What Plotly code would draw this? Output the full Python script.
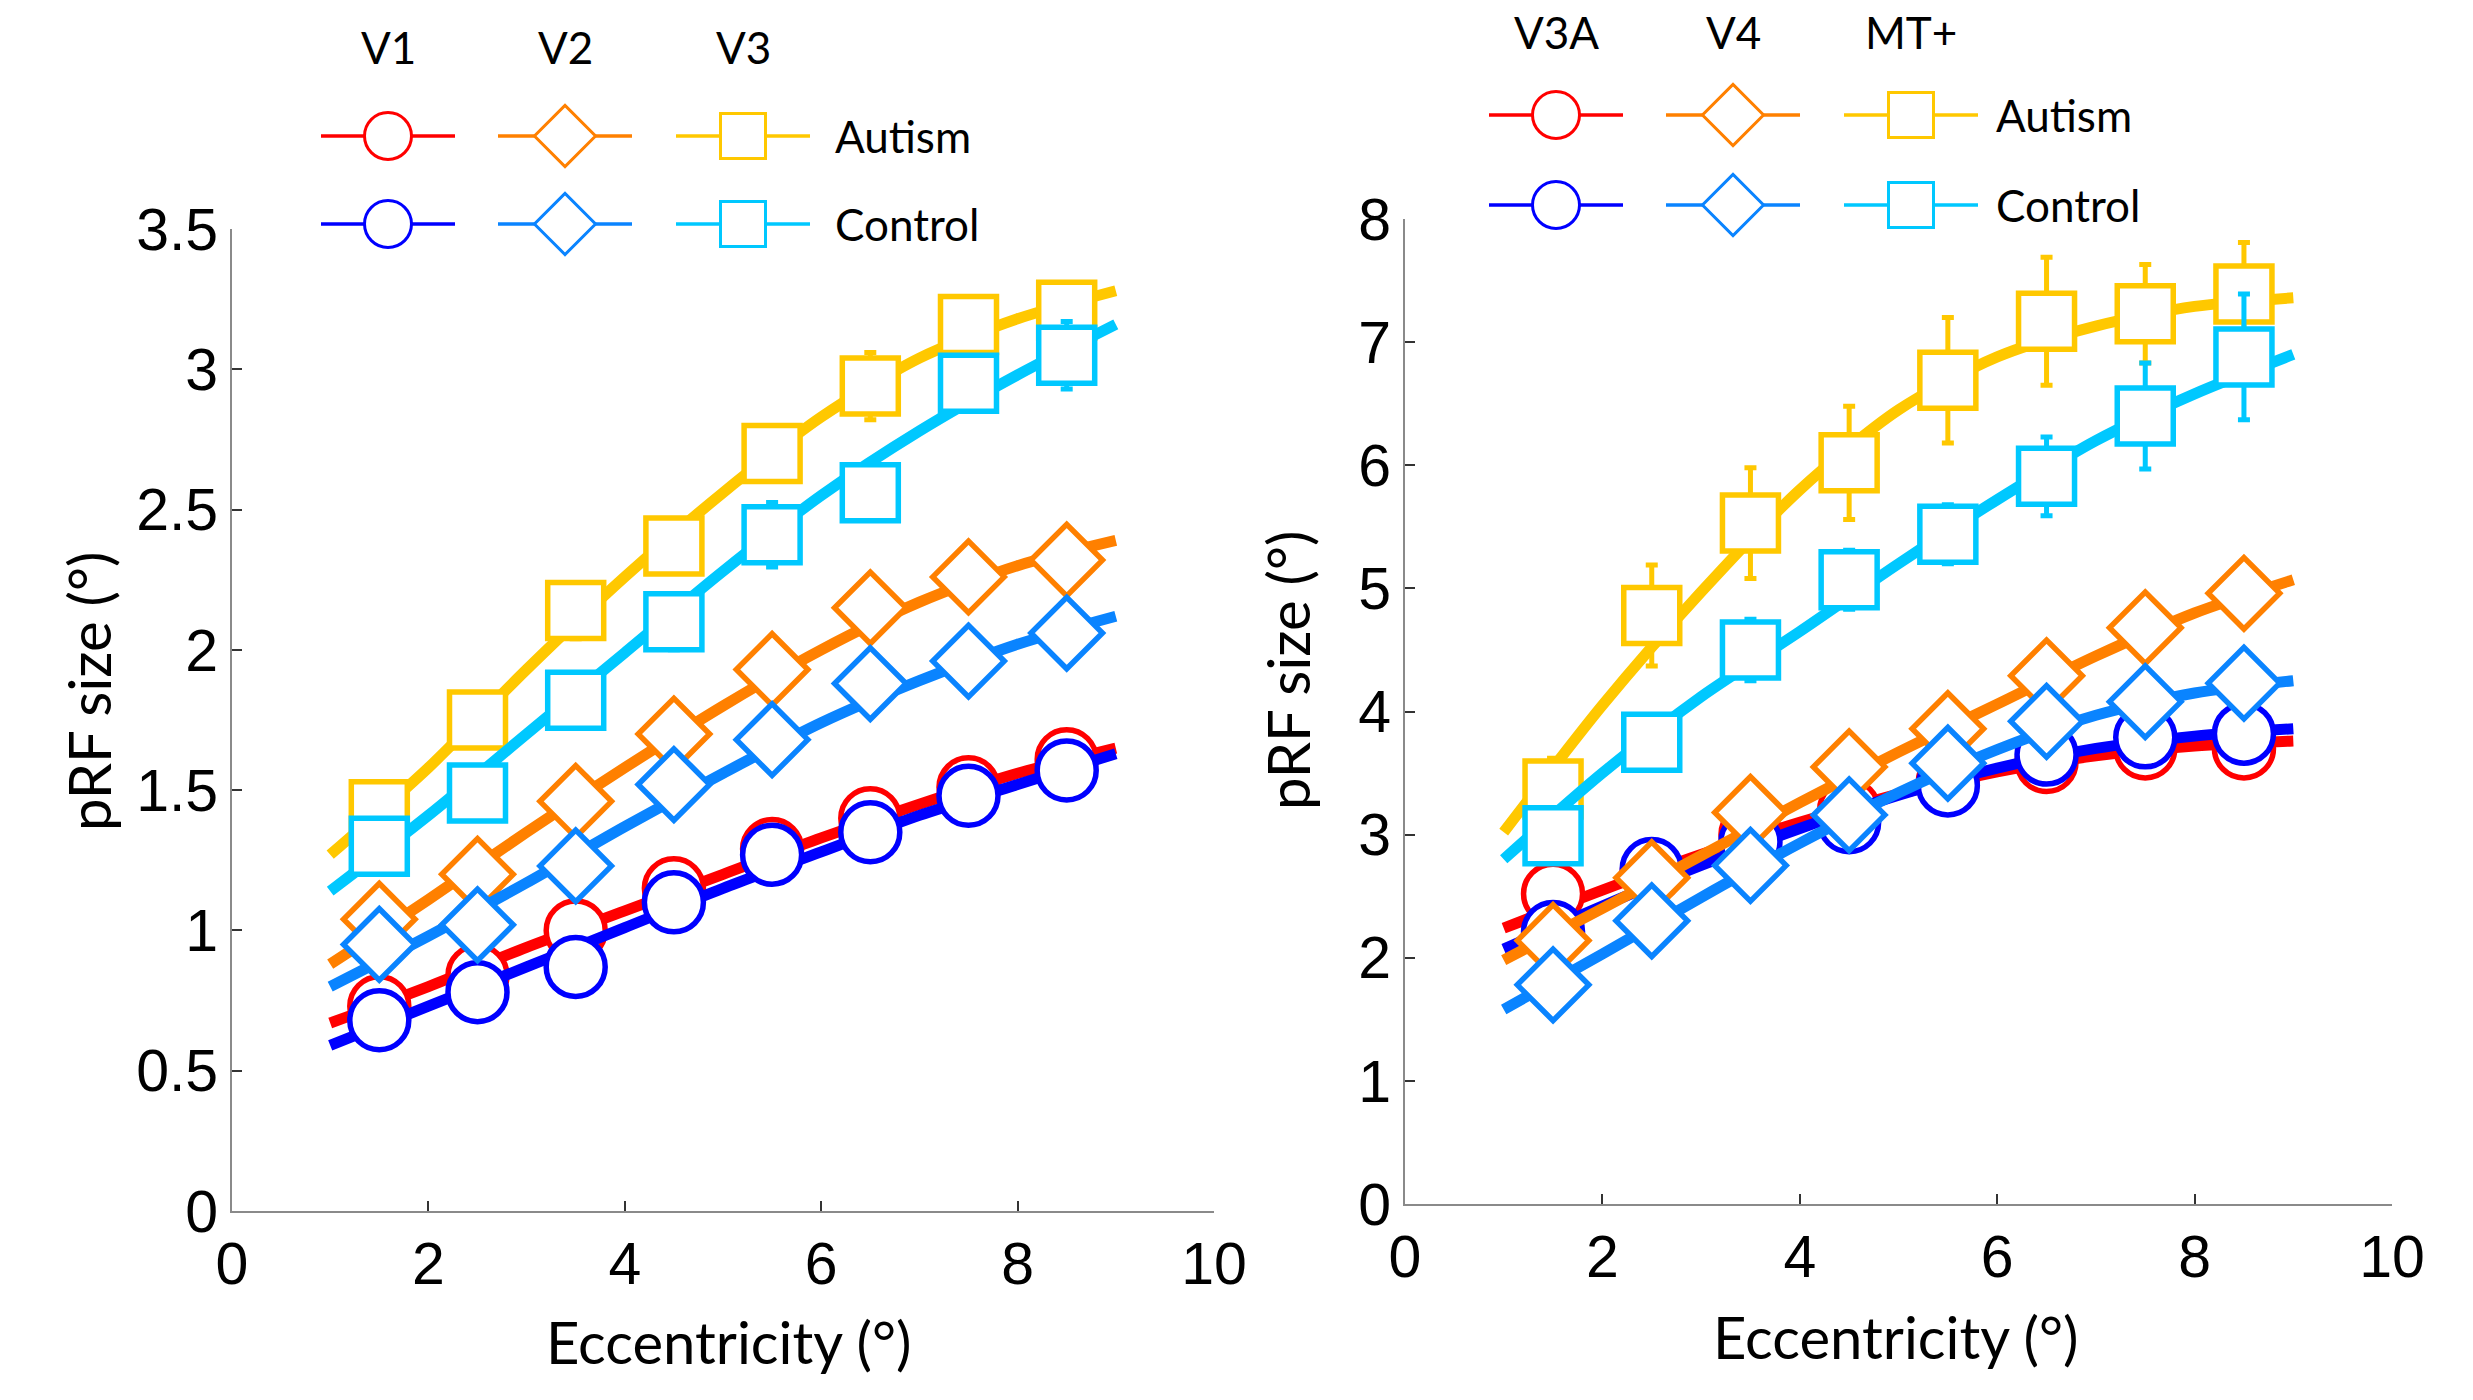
import plotly.graph_objects as go

# ---------------- data ----------------
ecc = [1.5, 2.5, 3.5, 4.5, 5.5, 6.5, 7.5, 8.5]
fit_x = [1, 2, 3, 4, 5, 6, 7, 8, 9]

# Left panel: V1, V2, V3
v1_aut = [0.73, 0.84, 1.00, 1.15, 1.29, 1.40, 1.51, 1.61]
v1_ctl = [0.68, 0.78, 0.87, 1.10, 1.27, 1.35, 1.48, 1.57]
v2_aut = [1.04, 1.20, 1.46, 1.70, 1.93, 2.15, 2.26, 2.32]
v2_ctl = [0.95, 1.02, 1.23, 1.52, 1.68, 1.88, 1.96, 2.06]
v3_aut = [1.43, 1.75, 2.14, 2.37, 2.70, 2.94, 3.16, 3.21]
v3_ctl = [1.30, 1.49, 1.82, 2.10, 2.41, 2.56, 2.95, 3.05]

v1_aut_err = [0.04, 0.04, 0.04, 0.04, 0.04, 0.04, 0.04, 0.04]
v1_ctl_err = [0.04, 0.04, 0.04, 0.04, 0.04, 0.04, 0.04, 0.04]
v2_aut_err = [0.05, 0.05, 0.05, 0.05, 0.05, 0.05, 0.05, 0.05]
v2_ctl_err = [0.05, 0.05, 0.05, 0.05, 0.05, 0.05, 0.05, 0.05]
v3_aut_err = [0.05, 0.06, 0.10, 0.07, 0.08, 0.12, 0.09, 0.09]
v3_ctl_err = [0.05, 0.06, 0.07, 0.10, 0.115, 0.07, 0.09, 0.12]

v1_aut_fit = [0.67, 0.80, 0.94, 1.07, 1.20, 1.33, 1.45, 1.56, 1.65]
v1_ctl_fit = [0.59, 0.73, 0.87, 1.01, 1.15, 1.28, 1.41, 1.52, 1.63]
v2_aut_fit = [0.88, 1.11, 1.35, 1.58, 1.80, 2.00, 2.17, 2.30, 2.39]
v2_ctl_fit = [0.80, 0.98, 1.17, 1.37, 1.56, 1.74, 1.89, 2.02, 2.12]
v3_aut_fit = [1.27, 1.58, 1.93, 2.26, 2.56, 2.83, 3.04, 3.18, 3.28]
v3_ctl_fit = [1.14, 1.41, 1.70, 1.99, 2.28, 2.55, 2.78, 2.98, 3.16]

# Right panel: V3A, V4, MT+
v3a_aut = [2.52, 2.70, 3.00, 3.20, 3.43, 3.59, 3.70, 3.70]
v3a_ctl = [2.21, 2.72, 2.94, 3.10, 3.40, 3.65, 3.79, 3.82]
v4_aut = [2.14, 2.65, 3.18, 3.55, 3.86, 4.29, 4.68, 4.96]
v4_ctl = [1.78, 2.30, 2.75, 3.16, 3.58, 3.92, 4.08, 4.23]
mt_aut = [3.37, 4.78, 5.53, 6.02, 6.69, 7.17, 7.23, 7.39]
mt_ctl = [2.99, 3.75, 4.50, 5.07, 5.44, 5.91, 6.40, 6.88]

v3a_aut_err = [0.12, 0.12, 0.12, 0.12, 0.12, 0.12, 0.12, 0.12]
v3a_ctl_err = [0.12, 0.12, 0.12, 0.12, 0.12, 0.12, 0.12, 0.12]
v4_aut_err = [0.15, 0.15, 0.15, 0.15, 0.15, 0.15, 0.15, 0.15]
v4_ctl_err = [0.15, 0.15, 0.15, 0.15, 0.15, 0.15, 0.15, 0.15]
mt_aut_err = [0.25, 0.41, 0.45, 0.46, 0.51, 0.52, 0.40, 0.42]
mt_ctl_err = [0.10, 0.15, 0.25, 0.24, 0.24, 0.32, 0.43, 0.51]

v3a_aut_fit = [2.24, 2.55, 2.84, 3.10, 3.33, 3.51, 3.64, 3.72, 3.76]
v3a_ctl_fit = [2.07, 2.42, 2.75, 3.05, 3.32, 3.54, 3.70, 3.80, 3.86]
v4_aut_fit = [1.98, 2.40, 2.83, 3.26, 3.67, 4.06, 4.45, 4.80, 5.07]
v4_ctl_fit = [1.58, 2.03, 2.49, 2.93, 3.34, 3.69, 3.97, 4.15, 4.25]
mt_aut_fit = [3.02, 4.05, 4.97, 5.80, 6.45, 6.88, 7.13, 7.29, 7.36]
mt_ctl_fit = [2.80, 3.50, 4.12, 4.65, 5.20, 5.72, 6.20, 6.58, 6.90]

left_areas = ["V1", "V2", "V3"]
right_areas = ["V3A", "V4", "MT+"]
groups = ["Autism", "Control"]
x_ticks = [0, 2, 4, 6, 8, 10]
left_y_ticks = [0, 0.5, 1, 1.5, 2, 2.5, 3, 3.5]
left_y_labels = ["0", "0.5", "1", "1.5", "2", "2.5", "3", "3.5"]
right_y_ticks = [0, 1, 2, 3, 4, 5, 6, 7, 8]

# ---------------- style ----------------
RED, BLUE = "#FF0000", "#0000FF"
ORANGE, DODGER = "#FF8000", "#0A84FF"
YELLOW, CYAN = "#FFC800", "#00C8FF"
colors = [[RED, BLUE], [ORANGE, DODGER], [YELLOW, CYAN]]
symbols = ["circle", "diamond", "square"]
msizes = [59, 55, 56]
TICKFONT = "Liberation Sans, Arial, sans-serif"
TEXTFONT = "Lato, Calibri, sans-serif"

W, H = 2473, 1400
fig = go.Figure()

left_series = [
    [(v1_aut, v1_aut_err, v1_aut_fit), (v1_ctl, v1_ctl_err, v1_ctl_fit)],
    [(v2_aut, v2_aut_err, v2_aut_fit), (v2_ctl, v2_ctl_err, v2_ctl_fit)],
    [(v3_aut, v3_aut_err, v3_aut_fit), (v3_ctl, v3_ctl_err, v3_ctl_fit)],
]
right_series = [
    [(v3a_aut, v3a_aut_err, v3a_aut_fit), (v3a_ctl, v3a_ctl_err, v3a_ctl_fit)],
    [(v4_aut, v4_aut_err, v4_aut_fit), (v4_ctl, v4_ctl_err, v4_ctl_fit)],
    [(mt_aut, mt_aut_err, mt_aut_fit), (mt_ctl, mt_ctl_err, mt_ctl_fit)],
]

for panel, (series, xa, ya) in enumerate([(left_series, "x", "y"), (right_series, "x2", "y2")]):
    for a in range(3):
        for g in range(2):
            vals, err, fit = series[a][g]
            c = colors[a][g]
            fig.add_trace(go.Scatter(
                x=fit_x, y=fit, mode="lines", xaxis=xa, yaxis=ya,
                line=dict(color=c, width=11, shape="spline", smoothing=0.8),
                showlegend=False, hoverinfo="skip"))
            fig.add_trace(go.Scatter(
                x=ecc, y=vals, mode="markers", xaxis=xa, yaxis=ya,
                marker=dict(symbol=symbols[a], size=msizes[a], color="white",
                            line=dict(color=c, width=5.5)),
                error_y=dict(type="data", array=err, visible=True, color=c,
                             thickness=5, width=6),
                showlegend=False))

# ---------------- legends (drawn on an overlay pixel axis) ----------------
legend_specs = [
    (left_areas, [388, 565, 743], 67, 47, [136, 224], 833),
    (right_areas, [1556, 1733, 1911], 67, 32, [115, 205], 1994),
]
annotations = []
for heads, cxs, half, hy, rys, tx in legend_specs:
    for a in range(3):
        annotations.append(dict(
            x=cxs[a] / W, y=1 - hy / H, xref="paper", yref="paper",
            text=heads[a], showarrow=False, xanchor="center", yanchor="middle",
            font=dict(family=TEXTFONT, size=44, color="black")))
        for g in range(2):
            c = colors[a][g]
            fig.add_trace(go.Scatter(
                x=[cxs[a] - half, cxs[a] + half], y=[rys[g], rys[g]],
                mode="lines", xaxis="x3", yaxis="y3",
                line=dict(color=c, width=3.5), showlegend=False, hoverinfo="skip"))
            fig.add_trace(go.Scatter(
                x=[cxs[a]], y=[rys[g]], mode="markers", xaxis="x3", yaxis="y3",
                marker=dict(symbol=symbols[a], size=[47, 47, 45][a], color="white",
                            line=dict(color=c, width=3)),
                showlegend=False, hoverinfo="skip"))
    for g in range(2):
        annotations.append(dict(
            x=tx / W, y=1 - rys[g] / H, xref="paper", yref="paper",
            text=groups[g], showarrow=False, xanchor="left", yanchor="middle",
            font=dict(family=TEXTFONT, size=44, color="black")))

# axis titles
for (cx, cy, txt, ang) in [(729, 1341, "Eccentricity (°)", 0), (1896, 1336, "Eccentricity (°)", 0),
                           (88, 691, "pRF size (°)", -90), (1287, 670, "pRF size (°)", -90)]:
    annotations.append(dict(
        x=cx / W, y=1 - cy / H, xref="paper", yref="paper", text=txt,
        showarrow=False, xanchor="center", yanchor="middle", textangle=ang,
        font=dict(family=TEXTFONT, size=58, color="black")))

axis_common = dict(
    showline=True, linecolor="#8a8a8a", linewidth=2, ticks="inside", ticklen=10,
    tickwidth=2, tickcolor="#333333", showgrid=False, zeroline=False, automargin=False,
    tickfont=dict(family=TICKFONT, size=59, color="black"), mirror=False)

fig.update_layout(
    width=W, height=H, autosize=False,
    margin=dict(l=0, r=0, t=0, b=0, pad=0),
    paper_bgcolor="white", plot_bgcolor="rgba(0,0,0,0)",
    showlegend=False,
    xaxis=dict(domain=[232 / W, 1214 / W], range=[0, 10], tickvals=x_ticks,
               anchor="y", **axis_common),
    yaxis=dict(domain=[1 - 1211 / H, 1 - 229 / H], range=[0, 3.5], tickvals=left_y_ticks,
               ticktext=left_y_labels, anchor="x", **axis_common),
    xaxis2=dict(domain=[1405 / W, 2392 / W], range=[0, 10], tickvals=x_ticks,
                anchor="y2", **axis_common),
    yaxis2=dict(domain=[1 - 1204 / H, 1 - 219 / H], range=[0, 8], tickvals=right_y_ticks,
                anchor="x2", **axis_common),
    xaxis3=dict(domain=[0, 1], range=[0, W], visible=False, anchor="y3", automargin=False),
    yaxis3=dict(domain=[0, 1], range=[H, 0], visible=False, anchor="x3", automargin=False),
    annotations=annotations,
)

fig.write_html("out.html")
